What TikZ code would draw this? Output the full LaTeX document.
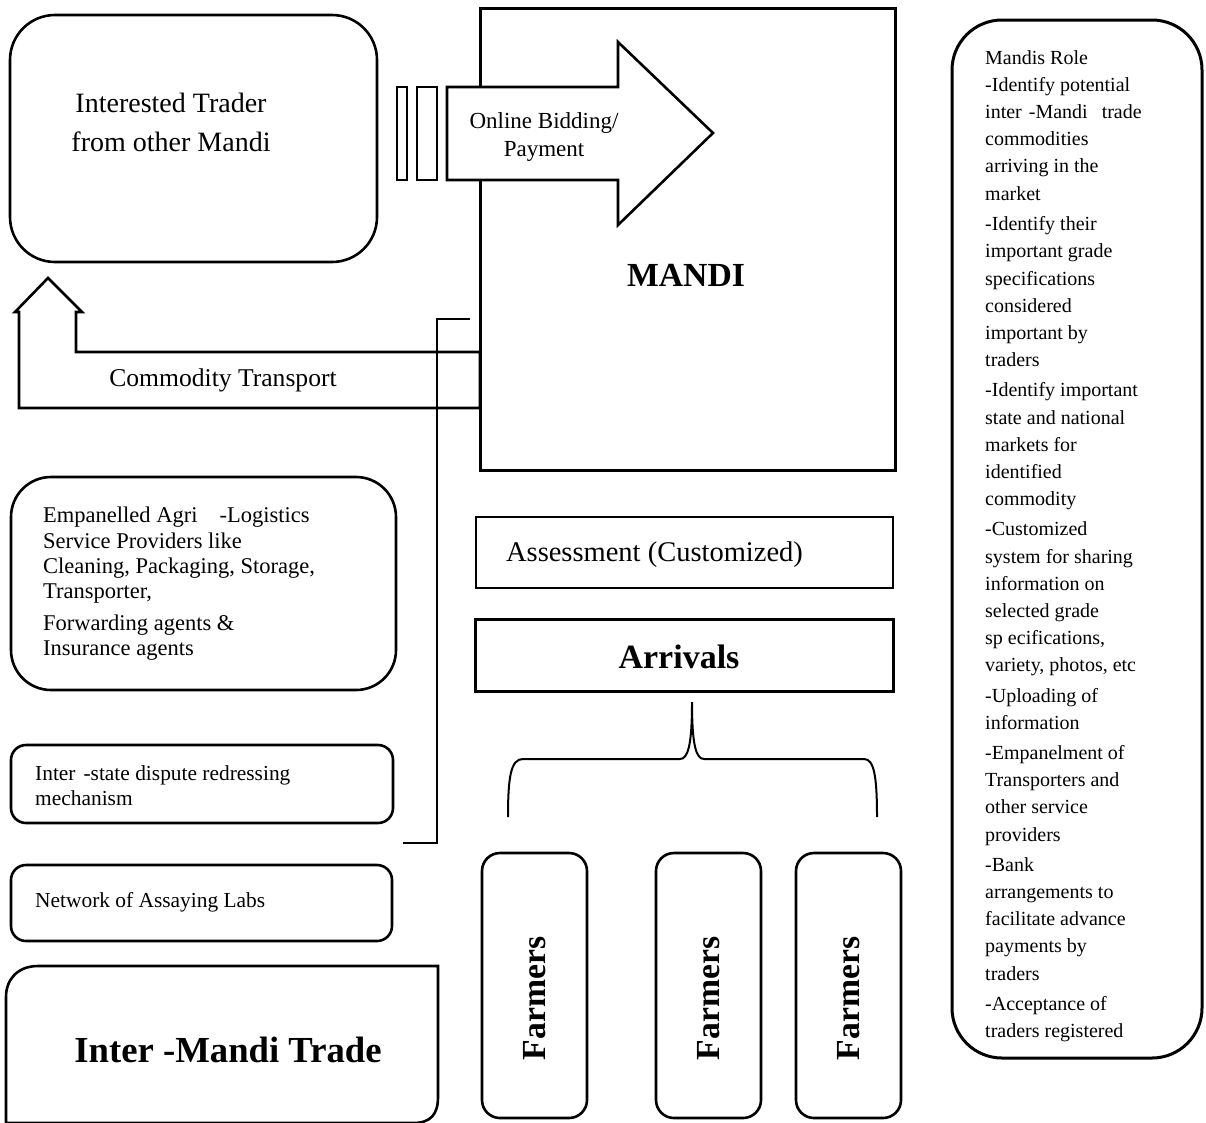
\documentclass[tikz,border=0pt]{standalone}
\usepackage{fontspec}
\setmainfont{Liberation Serif}
\usepackage{tikz}
\usetikzlibrary{positioning}

\newcommand\fsz[2]{\fontsize{#1pt}{#2pt}\selectfont}

\tikzset{
  box/.style={draw, line width=2.6pt, inner sep=0pt, outer sep=0pt},
  rbox/.style={box, rounded corners=#1},
  rbox/.default=40pt,
  farmbox/.style={rbox=18pt, minimum width=105pt, minimum height=265pt},
  farmtxt/.style={font=\fsz{33.7}{36}\bfseries, rotate=90},
  shapeline/.style={line width=2.6pt, line join=miter},
}

\begin{document}
\begin{tikzpicture}[x=1pt,y=-1pt]
\useasboundingbox (0,0) rectangle (1206,1122);

% top left: trader and mandi
\node[rbox=45pt, minimum width=367pt, minimum height=247pt] (trader) at (193.5,138.5) {};
\node[font=\fsz{28}{39}, align=center] (tradertxt) at (171,122.5) {Interested Trader\\from other Mandi};

\node[box, line width=3pt, minimum width=415pt, minimum height=462pt] (mandi) at (687.5,239) {};
\node[font=\fsz{33.7}{36}\bfseries] (manditxt) at (686,275) {MANDI};

% bidding arrow
\draw[shapeline, line width=2.2pt] (397,87) rectangle (407,180);
\draw[shapeline, line width=2.2pt] (417,87) rectangle (437,180);
\draw[shapeline, fill=white] (447,87) -- (618,87) -- (618,42) -- (713,133) -- (618,225) -- (618,180) -- (447,180) -- cycle;
\node[font=\fsz{23}{28}, align=center] (bid) at (544,137) {Online Bidding/\\Payment};

% commodity transport arrow
\draw[shapeline] (480,352) -- (76,352) -- (76,312) -- (82,312) -- (48,278) -- (15,312) -- (19,312) -- (19,408) -- (480,408) -- cycle;
\node[font=\fsz{25.6}{28}] (transport) at (223,380) {Commodity Transport};

% thin bracket
\draw[line width=1.4pt] (470,319) -- (437,319) -- (437,843) -- (403,843);

% left column boxes
\node[rbox=40pt, minimum width=385pt, minimum height=213pt] (agri) at (203.5,583.5) {};
\node[font=\fsz{22.5}{25.3}, align=left, anchor=north west, inner sep=0pt] (agritxt) at (43,507)
  {Empanelled Agri\hspace{22pt}-Logistics\\Service Providers like\\Cleaning, Packaging, Storage,\\Transporter,\\[6pt]Forwarding agents \&\\Insurance agents};

\node[rbox=15pt, minimum width=382pt, minimum height=78pt] (dispute) at (202,784) {};
\node[font=\fsz{21.4}{25}, align=left, anchor=north west, inner sep=0pt] (disputetxt) at (35,765)
  {Inter\hspace{8pt}-state dispute redressing\\mechanism};

\node[rbox=15pt, minimum width=381pt, minimum height=76pt, below=42pt of dispute.south west, anchor=north west] (labs) {};
\node[font=\fsz{21.4}{25}, anchor=base west, inner sep=0pt] (labstxt) at (35,907) {Network of Assaying Labs};

\draw[shapeline] (6,1124) -- (6,997) .. controls (6,979) and (18,966) .. (38,966) -- (438,966) -- (438,1097) .. controls (438,1114) and (431,1123) .. (413,1123) -- (6,1123);
\node[font=\fsz{36.7}{40}\bfseries] (intertxt) at (228,1050) {Inter -Mandi Trade};

% middle column
\node[box, minimum width=417pt, minimum height=71pt] (assess) at (684.5,552.5) {};
\node[font=\fsz{28.5}{30}] (assesstxt) at (654.5,555) {Assessment (Customized)};
\node[box, line width=3pt, minimum width=418pt, minimum height=72pt, below=31pt of assess] (arrivals) {};
\node[font=\fsz{34}{36}\bfseries] (arrivalstxt) at (679,657) {Arrivals};

% brace
\draw[line width=2pt] (508,817) .. controls (508,776) and (511,759) .. (523,759) -- (680,759)
  .. controls (688,759) and (692,745) .. (692,702)
  .. controls (692,745) and (696,759) .. (704,759) -- (864,759)
  .. controls (874,759) and (877,776) .. (877,817);

% farmers
\node[farmbox] (fa1) at (534.5,985.5) {};
\node[farmbox, right=69pt of fa1] (fa2) {};
\node[farmbox, right=35pt of fa2] (fa3) {};
\node[farmtxt] (ft1) at ([yshift=-13pt]fa1) {Farmers};
\node[farmtxt] (ft2) at ([yshift=-13pt]fa2) {Farmers};
\node[farmtxt] (ft3) at ([yshift=-13pt]fa3) {Farmers};

% mandis role
\node[rbox=50pt, line width=3pt, minimum width=250pt, minimum height=1038pt] (role) at (1077,539) {};
\node[font=\fsz{20}{27.2}, align=left, anchor=north west, inner sep=0pt] (roletxt) at (985,50)
  {Mandis Role\\-Identify potential\\inter\hspace{7pt}-Mandi\hspace{14pt}trade\\commodities\\arriving in the\\market\\[3.5pt]
   -Identify their\\important grade\\specifications\\considered\\important by\\traders\\[3pt]
   -Identify important\\state and national\\markets for\\identified\\commodity\\[3pt]
   -Customized\\system for sharing\\information on\\selected grade\\sp ecifications,\\variety, photos, etc\\[3pt]
   -Uploading of\\information\\[3pt]
   -Empanelment of\\Transporters and\\other service\\providers\\[3pt]
   -Bank\\arrangements to\\facilitate advance\\payments by\\traders\\[3pt]
   -Acceptance of\\traders registered};
\end{tikzpicture}
\end{document}
